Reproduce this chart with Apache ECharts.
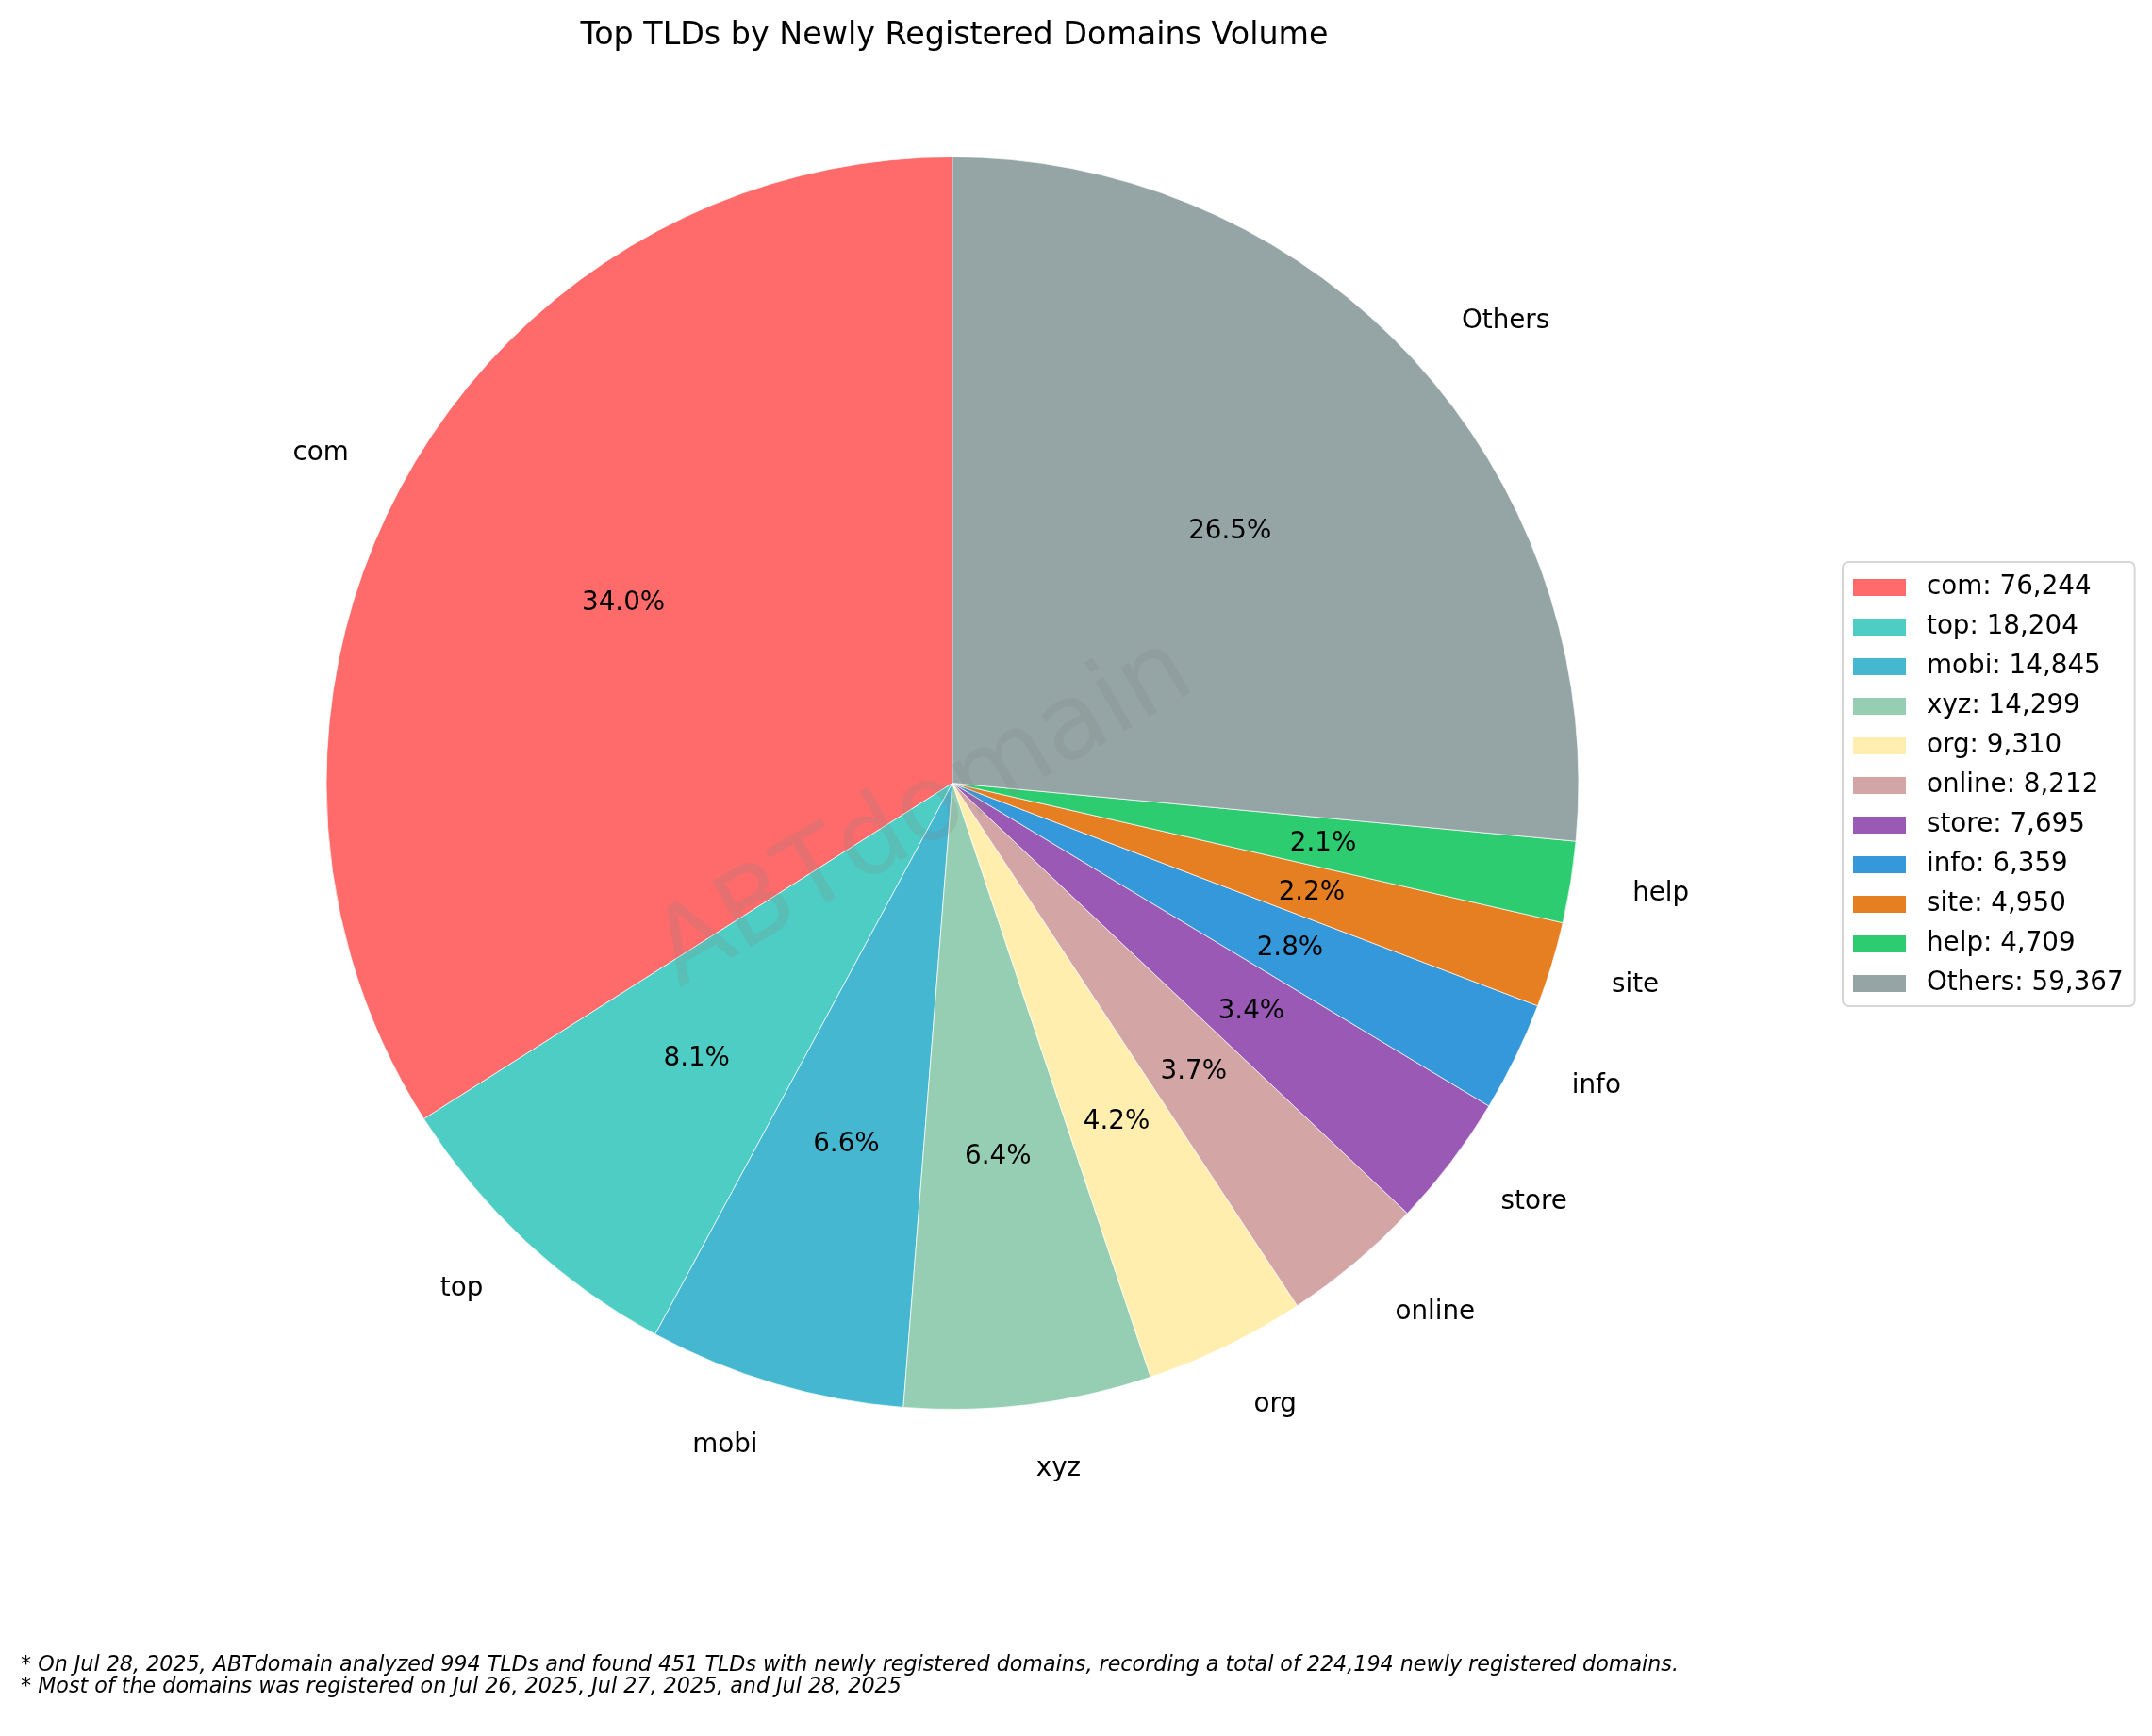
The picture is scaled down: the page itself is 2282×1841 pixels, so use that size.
<!DOCTYPE html>
<html>
<head>
<meta charset="utf-8">
<style>
  html, body { margin: 0; padding: 0; background: #fff; }
  #chart { width: 2282px; height: 1841px; }
</style>
<script src="https://cdn.jsdelivr.net/npm/echarts@6/dist/echarts.min.js"></script>
</head>
<body>
<div id="chart"></div>
<script>
const tlds = ['com', 'top', 'mobi', 'xyz', 'org', 'online', 'store', 'info', 'site', 'help', 'Others'];
const counts = [76244, 18204, 14845, 14299, 9310, 8212, 7695, 6359, 4950, 4709, 59367];
const colors = ['#FF6B6B', '#4ECDC4', '#45B7D1', '#96CEB4', '#FFEEAD', '#D4A5A5', '#9B59B6', '#3498DB', '#E67E22', '#2ECC71', '#95A5A6'];
const titleText = 'Top TLDs by Newly Registered Domains Volume';
const watermark = 'ABTdomain';
const footnotes = [
  '* On Jul 28, 2025, ABTdomain analyzed 994 TLDs and found 451 TLDs with newly registered domains, recording a total of 224,194 newly registered domains.',
  '* Most of the domains was registered on Jul 26, 2025, Jul 27, 2025, and Jul 28, 2025'
];

const FONT = '"DejaVu Sans"';
const CENTER = [1010, 830.5];
const R = 664;

const pieData = tlds.map(function (name, i) {
  return { name: name, value: counts[i] };
});

const chart = echarts.init(document.getElementById('chart'), null, { renderer: 'canvas' });
chart.setOption({
  backgroundColor: '#fff',
  animation: false,
  color: colors,
  title: {
    text: titleText,
    left: 1007,
    top: 17,
    textAlign: 'center',
    textStyle: { fontFamily: FONT, fontSize: 33.33, fontWeight: 'normal', color: '#000' }
  },
  legend: {
    orient: 'vertical',
    left: 1954,
    top: 596,
    padding: [13, 12, 10, 9],
    itemWidth: 58,
    itemHeight: 20,
    itemGap: 14,
    icon: 'rect',
    backgroundColor: '#fff',
    borderColor: '#d6d6d6',
    borderWidth: 2,
    borderRadius: 6,
    data: tlds,
    formatter: function (name) {
      return name + ': ' + counts[tlds.indexOf(name)].toLocaleString('en-US');
    },
    textStyle: { fontFamily: FONT, fontSize: 27.78, color: '#000', padding: [0, 0, 0, 16], lineHeight: 20 }
  },
  series: [{
    // slices and outer tld labels
    type: 'pie',
    center: CENTER,
    radius: [0, R],
    startAngle: 90,
    clockwise: false,
    avoidLabelOverlap: false,
    silent: true,
    data: pieData,
    itemStyle: { borderColor: '#fff', borderWidth: 0.7 },
    label: {
      position: 'outside',
      formatter: '{b}',
      distanceToLabelLine: 0,
      fontFamily: FONT,
      fontSize: 27.78,
      color: '#000'
    },
    labelLine: { show: false, length: R * 0.1, length2: 0 },
    labelLayout: { dy: 2 }
  }, {
    // transparent ring, only carries the percent labels at 0.6 R
    type: 'pie',
    center: CENTER,
    radius: [R * 0.19, R],
    startAngle: 90,
    clockwise: false,
    avoidLabelOverlap: false,
    silent: true,
    data: pieData,
    itemStyle: { color: 'rgba(0,0,0,0)' },
    label: {
      position: 'inside',
      formatter: function (p) {
        return p.percent.toFixed(1) + '%';
      },
      fontFamily: FONT,
      fontSize: 27.78,
      color: '#000'
    },
    labelLine: { show: false },
    labelLayout: { dy: 1 }
  }],
  graphic: [{
    type: 'text',
    x: 981,
    y: 864,
    rotation: Math.PI / 6,
    z: 100,
    silent: true,
    style: {
      text: watermark,
      fill: 'rgba(128,128,128,0.2)',
      font: '111px ' + FONT,
      textAlign: 'center',
      textVerticalAlign: 'middle'
    }
  }, {
    type: 'text',
    x: 22,
    y: 1754,
    silent: true,
    style: {
      text: footnotes.join('\n'),
      fill: '#000',
      font: 'italic 22.22px ' + FONT,
      lineHeight: 23.5
    }
  }]
});
</script>
</body>
</html>
